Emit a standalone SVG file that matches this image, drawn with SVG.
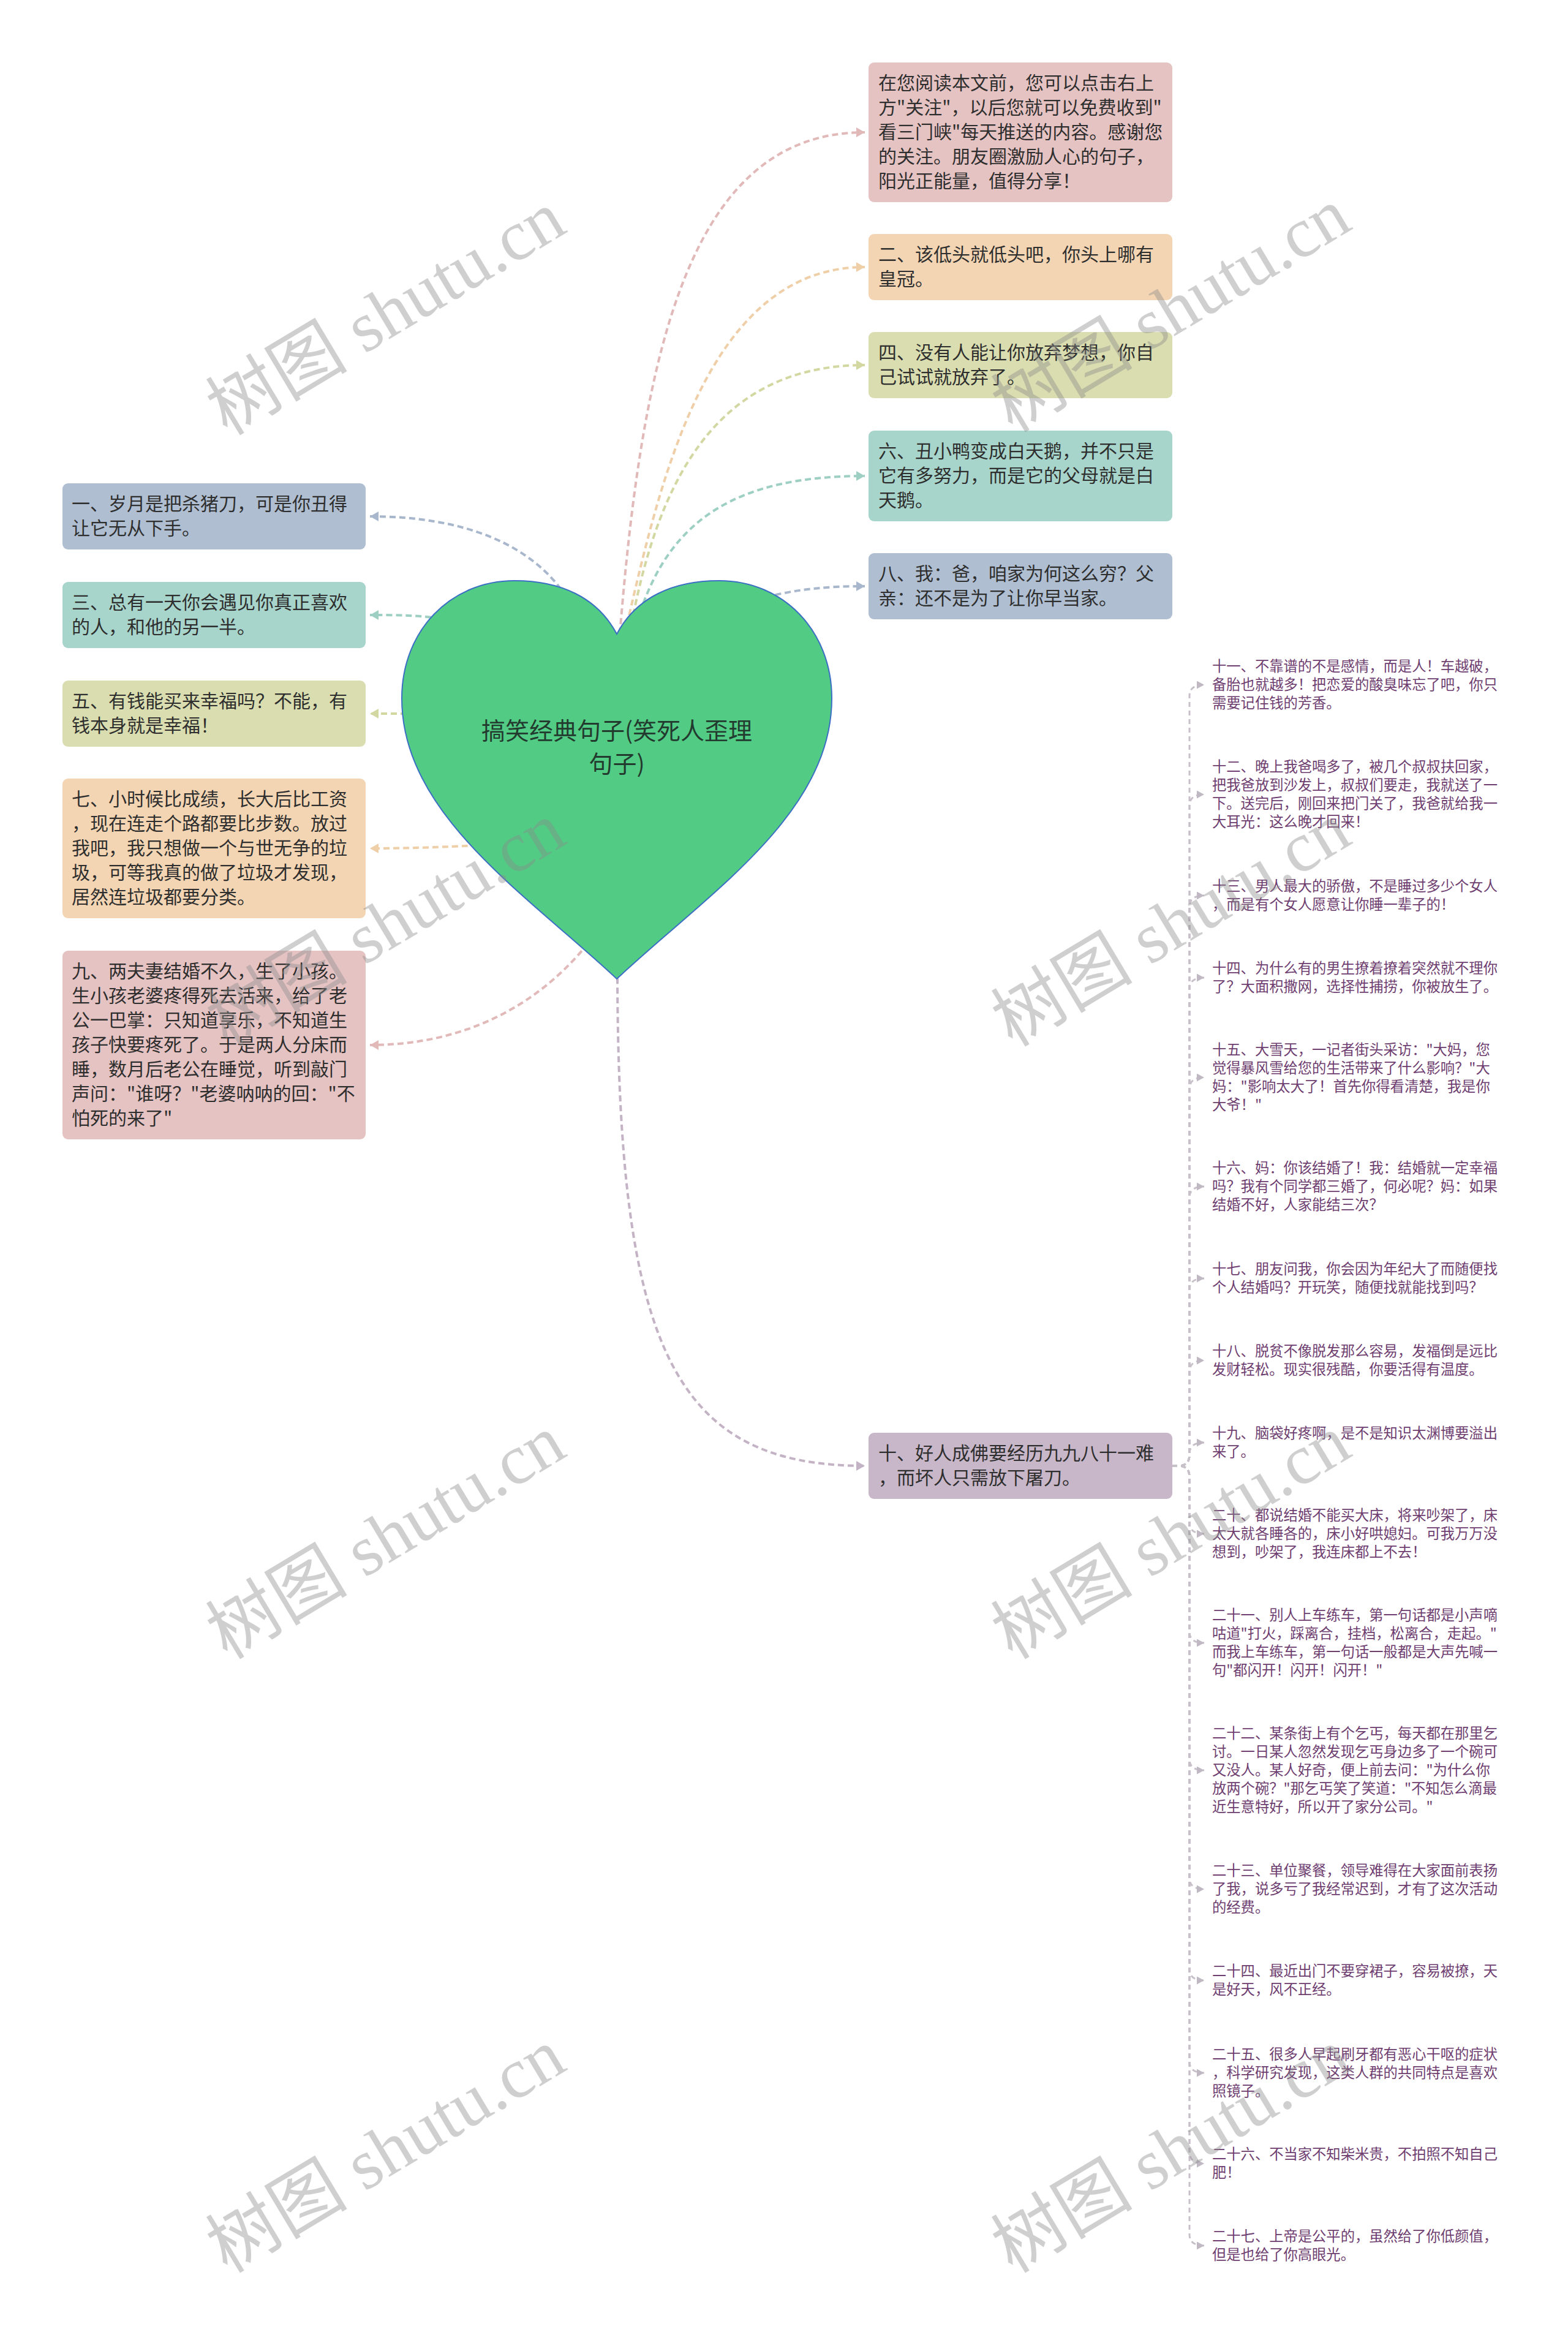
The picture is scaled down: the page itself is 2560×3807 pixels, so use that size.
<svg xmlns="http://www.w3.org/2000/svg" width="2560" height="3807" viewBox="0 0 2560 3807">
<defs>
<style>
.box text{font-family:"Noto Sans CJK SC","Noto Sans",sans-serif;font-size:30px;fill:#2e2e2e}
.leaf text{font-family:"Noto Sans CJK SC","Noto Sans",sans-serif;font-size:23.3px;fill:#6E3E70}
.cn{fill:none;stroke-width:4;stroke-dasharray:10 6}
.lf{fill:none;stroke:#C7C0C9;stroke-width:3;stroke-dasharray:8 6;marker-end:url(#ag)}
.wm{font-family:"Liberation Serif","Noto Sans CJK SC",serif;font-size:116px;fill:#8a8a8a;opacity:0.4}
</style>
<marker id="ap" viewBox="0 0 10 10" preserveAspectRatio="none" refX="10" refY="5" markerWidth="14" markerHeight="16" markerUnits="userSpaceOnUse" orient="auto"><path d="M0,0L10,5L0,10z" fill="#E2B9B9"/></marker>
<marker id="ao" viewBox="0 0 10 10" preserveAspectRatio="none" refX="10" refY="5" markerWidth="14" markerHeight="16" markerUnits="userSpaceOnUse" orient="auto"><path d="M0,0L10,5L0,10z" fill="#EFCFA8"/></marker>
<marker id="ay" viewBox="0 0 10 10" preserveAspectRatio="none" refX="10" refY="5" markerWidth="14" markerHeight="16" markerUnits="userSpaceOnUse" orient="auto"><path d="M0,0L10,5L0,10z" fill="#D3D8A2"/></marker>
<marker id="at" viewBox="0 0 10 10" preserveAspectRatio="none" refX="10" refY="5" markerWidth="14" markerHeight="16" markerUnits="userSpaceOnUse" orient="auto"><path d="M0,0L10,5L0,10z" fill="#9DCFC3"/></marker>
<marker id="ab" viewBox="0 0 10 10" preserveAspectRatio="none" refX="10" refY="5" markerWidth="14" markerHeight="16" markerUnits="userSpaceOnUse" orient="auto"><path d="M0,0L10,5L0,10z" fill="#A8B7CC"/></marker>
<marker id="am" viewBox="0 0 10 10" preserveAspectRatio="none" refX="10" refY="5" markerWidth="14" markerHeight="16" markerUnits="userSpaceOnUse" orient="auto"><path d="M0,0L10,5L0,10z" fill="#C3B3C5"/></marker>
<marker id="ag" viewBox="0 0 10 10" preserveAspectRatio="none" refX="10" refY="5" markerWidth="12" markerHeight="13" markerUnits="userSpaceOnUse" orient="auto"><path d="M0,0L10,5L0,10z" fill="#C0B8C3"/></marker>
</defs>
<rect width="2560" height="3807" fill="#ffffff"/>

<g id="connectors">
<path class="cn" stroke="#E2B9B9" marker-end="url(#ap)" d="M1012 1035C1050 560 1130 216 1412 216"/>
<path class="cn" stroke="#EFCFA8" marker-end="url(#ao)" d="M1020 1035C1075 800 1150 436 1412 436"/>
<path class="cn" stroke="#D3D8A2" marker-end="url(#ay)" d="M1028 1035C1070 800 1160 596 1412 596"/>
<path class="cn" stroke="#9DCFC3" marker-end="url(#at)" d="M1045 1000C1095 850 1200 777 1412 777"/>
<path class="cn" stroke="#A8B7CC" marker-end="url(#ab)" d="M1250 975C1300 962 1350 957 1412 957"/>
<path class="cn" stroke="#A8B7CC" marker-end="url(#ab)" d="M925 975C870 890 760 843 604 843"/>
<path class="cn" stroke="#9DCFC3" marker-end="url(#at)" d="M720 1010C680 1004 650 1004 604 1004"/>
<path class="cn" stroke="#D3D8A2" marker-end="url(#ay)" d="M680 1165L604 1165"/>
<path class="cn" stroke="#EFCFA8" marker-end="url(#ao)" d="M780 1380C700 1384 650 1385 604 1385"/>
<path class="cn" stroke="#E2B9B9" marker-end="url(#ap)" d="M960 1540C880 1640 760 1706 604 1706"/>
<path class="cn" stroke="#C3B3C5" marker-end="url(#am)" d="M1008 1580C1008 2200 1100 2393 1412 2393"/>
<g id="leaf-connectors">
<path class="lf" d="M1914 2393H1924Q1942 2393 1942 2375V1136Q1942 1118 1966 1118"/>
<path class="lf" d="M1914 2393H1924Q1942 2393 1942 2375V1315Q1942 1297 1966 1297"/>
<path class="lf" d="M1914 2393H1924Q1942 2393 1942 2375V1480Q1942 1462 1966 1462"/>
<path class="lf" d="M1914 2393H1924Q1942 2393 1942 2375V1614Q1942 1596 1966 1596"/>
<path class="lf" d="M1914 2393H1924Q1942 2393 1942 2375V1777Q1942 1759 1966 1759"/>
<path class="lf" d="M1914 2393H1924Q1942 2393 1942 2375V1955Q1942 1937 1966 1937"/>
<path class="lf" d="M1914 2393H1924Q1942 2393 1942 2375V2105Q1942 2087 1966 2087"/>
<path class="lf" d="M1914 2393H1924Q1942 2393 1942 2375V2239Q1942 2221 1966 2221"/>
<path class="lf" d="M1914 2393H1924Q1942 2393 1942 2375V2373Q1942 2355 1966 2355"/>
<path class="lf" d="M1914 2393H1924Q1942 2393 1942 2411V2486Q1942 2504 1966 2504"/>
<path class="lf" d="M1914 2393H1924Q1942 2393 1942 2411V2664Q1942 2682 1966 2682"/>
<path class="lf" d="M1914 2393H1924Q1942 2393 1942 2411V2872Q1942 2890 1966 2890"/>
<path class="lf" d="M1914 2393H1924Q1942 2393 1942 2411V3066Q1942 3084 1966 3084"/>
<path class="lf" d="M1914 2393H1924Q1942 2393 1942 2411V3215Q1942 3233 1966 3233"/>
<path class="lf" d="M1914 2393H1924Q1942 2393 1942 2411V3366Q1942 3384 1966 3384"/>
<path class="lf" d="M1914 2393H1924Q1942 2393 1942 2411V3514Q1942 3532 1966 3532"/>
<path class="lf" d="M1914 2393H1924Q1942 2393 1942 2411V3648Q1942 3666 1966 3666"/>
</g>
</g>

<g id="root">
<path d="M1007 1035C975 975 915 948 840 948C735 948 656 1030 656 1140C656 1330 860 1460 1007 1598C1154 1460 1358 1330 1358 1140C1358 1030 1279 948 1174 948C1099 948 1039 975 1007 1035Z" fill="#52CC85" stroke="#3A6FC4" stroke-width="2"/>
<text x="1007" y="1207" text-anchor="middle" font-family="Noto Sans CJK SC, sans-serif" font-size="39" fill="#233A2E">搞笑经典句子(笑死人歪理</text>
<text x="1007" y="1261" text-anchor="middle" font-family="Noto Sans CJK SC, sans-serif" font-size="39" fill="#233A2E">句子)</text>
</g>

<g id="n0" class="box"><rect x="1418" y="102" width="496" height="228" rx="9" fill="#E6C3C3"/>
<text><tspan x="1434" y="146">在您阅读本文前，您可以点击右上</tspan><tspan x="1434" y="186">方"关注"，以后您就可以免费收到"</tspan><tspan x="1434" y="226">看三门峡"每天推送的内容。感谢您</tspan><tspan x="1434" y="266">的关注。朋友圈激励人心的句子，</tspan><tspan x="1434" y="306">阳光正能量，值得分享！</tspan></text></g>
<g id="n2" class="box"><rect x="1418" y="382" width="496" height="108" rx="9" fill="#F3D5B3"/>
<text><tspan x="1434" y="426">二、该低头就低头吧，你头上哪有</tspan><tspan x="1434" y="466">皇冠。</tspan></text></g>
<g id="n4" class="box"><rect x="1418" y="542" width="496" height="108" rx="9" fill="#D9DDAF"/>
<text><tspan x="1434" y="586">四、没有人能让你放弃梦想，你自</tspan><tspan x="1434" y="626">己试试就放弃了。</tspan></text></g>
<g id="n6" class="box"><rect x="1418" y="703" width="496" height="148" rx="9" fill="#A8D5CB"/>
<text><tspan x="1434" y="747">六、丑小鸭变成白天鹅，并不只是</tspan><tspan x="1434" y="787">它有多努力，而是它的父母就是白</tspan><tspan x="1434" y="827">天鹅。</tspan></text></g>
<g id="n8" class="box"><rect x="1418" y="903" width="496" height="108" rx="9" fill="#AFBED1"/>
<text><tspan x="1434" y="947">八、我：爸，咱家为何这么穷？父</tspan><tspan x="1434" y="987">亲：还不是为了让你早当家。</tspan></text></g>

<g id="n1" class="box"><rect x="102" y="789" width="495" height="108" rx="9" fill="#AFBED1"/>
<text><tspan x="117" y="833">一、岁月是把杀猪刀，可是你丑得</tspan><tspan x="117" y="873">让它无从下手。</tspan></text></g>
<g id="n3" class="box"><rect x="102" y="950" width="495" height="108" rx="9" fill="#A8D5CB"/>
<text><tspan x="117" y="994">三、总有一天你会遇见你真正喜欢</tspan><tspan x="117" y="1034">的人，和他的另一半。</tspan></text></g>
<g id="n5" class="box"><rect x="102" y="1111" width="495" height="108" rx="9" fill="#D9DDAF"/>
<text><tspan x="117" y="1155">五、有钱能买来幸福吗？不能，有</tspan><tspan x="117" y="1195">钱本身就是幸福！</tspan></text></g>
<g id="n7" class="box"><rect x="102" y="1271" width="495" height="228" rx="9" fill="#F3D5B3"/>
<text><tspan x="117" y="1315">七、小时候比成绩，长大后比工资</tspan><tspan x="117" y="1355">，现在连走个路都要比步数。放过</tspan><tspan x="117" y="1395">我吧，我只想做一个与世无争的垃</tspan><tspan x="117" y="1435">圾，可等我真的做了垃圾才发现，</tspan><tspan x="117" y="1475">居然连垃圾都要分类。</tspan></text></g>
<g id="n9" class="box"><rect x="102" y="1552" width="495" height="308" rx="9" fill="#E6C3C3"/>
<text><tspan x="117" y="1596">九、两夫妻结婚不久，生了小孩。</tspan><tspan x="117" y="1636">生小孩老婆疼得死去活来，给了老</tspan><tspan x="117" y="1676">公一巴掌：只知道享乐，不知道生</tspan><tspan x="117" y="1716">孩子快要疼死了。于是两人分床而</tspan><tspan x="117" y="1756">睡，数月后老公在睡觉，听到敲门</tspan><tspan x="117" y="1796">声问："谁呀？"老婆呐呐的回："不</tspan><tspan x="117" y="1836">怕死的来了"</tspan></text></g>

<g id="n10" class="box"><rect x="1418" y="2339" width="496" height="108" rx="9" fill="#C8B7C9"/>
<text><tspan x="1434" y="2383">十、好人成佛要经历九九八十一难</tspan><tspan x="1434" y="2423">，而坏人只需放下屠刀。</tspan></text></g>

<g id="n11" class="leaf"><text><tspan x="1979" y="1096">十一、不靠谱的不是感情，而是人！车越破，</tspan><tspan x="1979" y="1126">备胎也就越多！把恋爱的酸臭味忘了吧，你只</tspan><tspan x="1979" y="1156">需要记住钱的芳香。</tspan></text></g>
<g id="n12" class="leaf"><text><tspan x="1979" y="1260">十二、晚上我爸喝多了，被几个叔叔扶回家，</tspan><tspan x="1979" y="1290">把我爸放到沙发上，叔叔们要走，我就送了一</tspan><tspan x="1979" y="1320">下。送完后，刚回来把门关了，我爸就给我一</tspan><tspan x="1979" y="1350">大耳光：这么晚才回来！</tspan></text></g>
<g id="n13" class="leaf"><text><tspan x="1979" y="1455">十三、男人最大的骄傲，不是睡过多少个女人</tspan><tspan x="1979" y="1485">，而是有个女人愿意让你睡一辈子的！</tspan></text></g>
<g id="n14" class="leaf"><text><tspan x="1979" y="1589">十四、为什么有的男生撩着撩着突然就不理你</tspan><tspan x="1979" y="1619">了？大面积撒网，选择性捕捞，你被放生了。</tspan></text></g>
<g id="n15" class="leaf"><text><tspan x="1979" y="1722">十五、大雪天，一记者街头采访："大妈，您</tspan><tspan x="1979" y="1752">觉得暴风雪给您的生活带来了什么影响？"大</tspan><tspan x="1979" y="1782">妈："影响太大了！首先你得看清楚，我是你</tspan><tspan x="1979" y="1812">大爷！"</tspan></text></g>
<g id="n16" class="leaf"><text><tspan x="1979" y="1915">十六、妈：你该结婚了！我：结婚就一定幸福</tspan><tspan x="1979" y="1945">吗？我有个同学都三婚了，何必呢？妈：如果</tspan><tspan x="1979" y="1975">结婚不好，人家能结三次？</tspan></text></g>
<g id="n17" class="leaf"><text><tspan x="1979" y="2080">十七、朋友问我，你会因为年纪大了而随便找</tspan><tspan x="1979" y="2110">个人结婚吗？开玩笑，随便找就能找到吗？</tspan></text></g>
<g id="n18" class="leaf"><text><tspan x="1979" y="2214">十八、脱贫不像脱发那么容易，发福倒是远比</tspan><tspan x="1979" y="2244">发财轻松。现实很残酷，你要活得有温度。</tspan></text></g>
<g id="n19" class="leaf"><text><tspan x="1979" y="2348">十九、脑袋好疼啊，是不是知识太渊博要溢出</tspan><tspan x="1979" y="2378">来了。</tspan></text></g>
<g id="n20" class="leaf"><text><tspan x="1979" y="2482">二十、都说结婚不能买大床，将来吵架了，床</tspan><tspan x="1979" y="2512">太大就各睡各的，床小好哄媳妇。可我万万没</tspan><tspan x="1979" y="2542">想到，吵架了，我连床都上不去！</tspan></text></g>
<g id="n21" class="leaf"><text><tspan x="1979" y="2645">二十一、别人上车练车，第一句话都是小声嘀</tspan><tspan x="1979" y="2675">咕道"打火，踩离合，挂档，松离合，走起。"</tspan><tspan x="1979" y="2705">而我上车练车，第一句话一般都是大声先喊一</tspan><tspan x="1979" y="2735">句"都闪开！闪开！闪开！"</tspan></text></g>
<g id="n22" class="leaf"><text><tspan x="1979" y="2838">二十二、某条街上有个乞丐，每天都在那里乞</tspan><tspan x="1979" y="2868">讨。一日某人忽然发现乞丐身边多了一个碗可</tspan><tspan x="1979" y="2898">又没人。某人好奇，便上前去问："为什么你</tspan><tspan x="1979" y="2928">放两个碗？"那乞丐笑了笑道："不知怎么滴最</tspan><tspan x="1979" y="2958">近生意特好，所以开了家分公司。"</tspan></text></g>
<g id="n23" class="leaf"><text><tspan x="1979" y="3062">二十三、单位聚餐，领导难得在大家面前表扬</tspan><tspan x="1979" y="3092">了我，说多亏了我经常迟到，才有了这次活动</tspan><tspan x="1979" y="3122">的经费。</tspan></text></g>
<g id="n24" class="leaf"><text><tspan x="1979" y="3226">二十四、最近出门不要穿裙子，容易被撩，天</tspan><tspan x="1979" y="3256">是好天，风不正经。</tspan></text></g>
<g id="n25" class="leaf"><text><tspan x="1979" y="3362">二十五、很多人早起刷牙都有恶心干呕的症状</tspan><tspan x="1979" y="3392">，科学研究发现，这类人群的共同特点是喜欢</tspan><tspan x="1979" y="3422">照镜子。</tspan></text></g>
<g id="n26" class="leaf"><text><tspan x="1979" y="3525">二十六、不当家不知柴米贵，不拍照不知自己</tspan><tspan x="1979" y="3555">肥！</tspan></text></g>
<g id="n27" class="leaf"><text><tspan x="1979" y="3659">二十七、上帝是公平的，虽然给了你低颜值，</tspan><tspan x="1979" y="3689">但是也给了你高眼光。</tspan></text></g>

<g id="watermarks">
<text class="wm" text-anchor="middle" transform="translate(650 545) rotate(-31)">树图 shutu.cn</text>
<text class="wm" text-anchor="middle" transform="translate(1932 540) rotate(-31)">树图 shutu.cn</text>
<text class="wm" text-anchor="middle" transform="translate(650 1543) rotate(-31)">树图 shutu.cn</text>
<text class="wm" text-anchor="middle" transform="translate(1932 1543) rotate(-31)">树图 shutu.cn</text>
<text class="wm" text-anchor="middle" transform="translate(650 2543) rotate(-31)">树图 shutu.cn</text>
<text class="wm" text-anchor="middle" transform="translate(1932 2543) rotate(-31)">树图 shutu.cn</text>
<text class="wm" text-anchor="middle" transform="translate(650 3545) rotate(-31)">树图 shutu.cn</text>
<text class="wm" text-anchor="middle" transform="translate(1932 3545) rotate(-31)">树图 shutu.cn</text>
</g>
</svg>
